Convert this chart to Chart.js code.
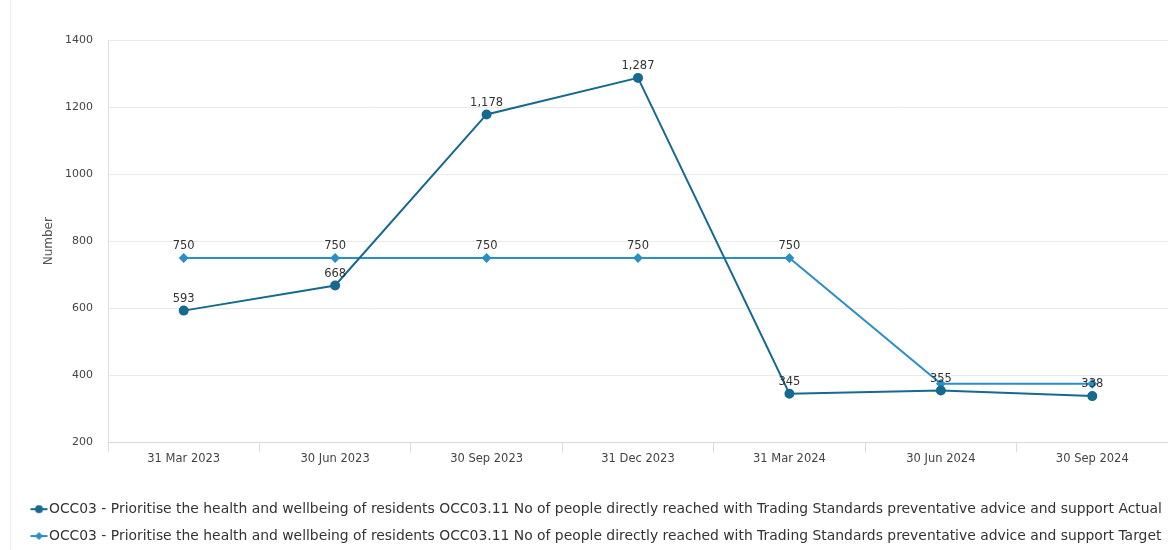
<!DOCTYPE html>
<html>
<head>
<meta charset="utf-8">
<script src="https://cdn.jsdelivr.net/npm/chart.js@4.4.1/dist/chart.umd.min.js"></script>
<style>
  html, body { margin: 0; padding: 0; background: #ffffff; }
  #wrap { position: relative; width: 1168px; height: 550px; overflow: hidden; }
  #edge { position: absolute; left: 10px; top: 0; width: 1px; height: 550px; background: #ececec; }
  canvas { position: absolute; left: 0; top: 0; }
</style>
</head>
<body>
<div id="wrap">
  <div id="edge"></div>
  <canvas id="c" width="1174" height="555"></canvas>
</div>
<script>
const categories = ["31 Mar 2023", "30 Jun 2023", "30 Sep 2023", "31 Dec 2023", "31 Mar 2024", "30 Jun 2024", "30 Sep 2024"];
const actualValues = [593, 668, 1178, 1287, 345, 355, 338];
const targetValues = [750, 750, 750, 750, 750, 375, 375];
const yTicks = [200, 400, 600, 800, 1000, 1200, 1400];
const actualLabel = "OCC03 - Prioritise the health and wellbeing of residents OCC03.11 No of people directly reached with Trading Standards preventative advice and support Actual";
const targetLabel = "OCC03 - Prioritise the health and wellbeing of residents OCC03.11 No of people directly reached with Trading Standards preventative advice and support Target";

const ACTUAL_COLOR = "#176a8f";
const TARGET_COLOR = "#2a8fc4";
const FONT = "'DejaVu Sans', Verdana, sans-serif";

function legendIcon(color, shape) {
  const c = document.createElement("canvas");
  c.width = 48; c.height = 12;
  const g = c.getContext("2d");
  g.strokeStyle = color; g.fillStyle = color; g.lineWidth = 2;
  g.beginPath(); g.moveTo(27, 6); g.lineTo(44, 6); g.stroke();
  if (shape === "circle") {
    g.beginPath(); g.arc(35.5, 6, 4, 0, Math.PI * 2); g.fill();
  } else {
    g.beginPath(); g.moveTo(35.5, 2); g.lineTo(39.5, 6); g.lineTo(35.5, 10); g.lineTo(31.5, 6); g.closePath(); g.fill();
  }
  return c;
}
const icons = [legendIcon(ACTUAL_COLOR, "circle"), legendIcon(TARGET_COLOR, "rectRot")];

const valueLabels = {
  id: "valueLabels",
  afterDatasetsDraw(chart) {
    const ctx = chart.ctx;
    ctx.save();
    ctx.font = "11.5px " + FONT;
    ctx.fillStyle = "#333333";
    ctx.textAlign = "center";
    ctx.textBaseline = "bottom";
    const boxes = [];
    chart.data.datasets.forEach((ds, di) => {
      const meta = chart.getDatasetMeta(di);
      meta.data.forEach((pt, i) => {
        const txt = Number(ds.data[i]).toLocaleString("en-US");
        const w = ctx.measureText(txt).width;
        const x = pt.x, yb = pt.y - 6;
        const box = { l: x - w / 2 - 3, r: x + w / 2 + 3, t: yb - 15, b: yb + 3 };
        const hit = boxes.some(o => !(box.r < o.l || box.l > o.r || box.b < o.t || box.t > o.b));
        if (hit) return;
        boxes.push(box);
        ctx.fillText(txt, x, yb);
      });
    });
    ctx.restore();
  }
};

new Chart(document.getElementById("c"), {
  type: "line",
  data: {
    labels: categories,
    datasets: [
      {
        label: actualLabel,
        data: actualValues,
        borderColor: ACTUAL_COLOR,
        backgroundColor: ACTUAL_COLOR,
        borderWidth: 2,
        pointStyle: "circle",
        pointRadius: 4,
        pointHoverRadius: 4,
        tension: 0
      },
      {
        label: targetLabel,
        data: targetValues,
        borderColor: TARGET_COLOR,
        backgroundColor: TARGET_COLOR,
        borderWidth: 2,
        pointStyle: "rectRot",
        pointRadius: 3.5,
        pointHoverRadius: 3.5,
        tension: 0
      }
    ]
  },
  options: {
    responsive: false,
    animation: false,
    layout: { padding: { top: 40, right: 0, left: 0, bottom: 2 } },
    scales: {
      x: {
        offset: true,
        afterFit(scale) { scale.height += 23; },
        grid: { display: true, drawOnChartArea: false, drawTicks: true, tickLength: 10, color: "#dcdcdc", offset: true },
        border: { display: true, color: "#d8d8d8" },
        ticks: { font: { family: FONT, size: 11.5 }, color: "#444444", padding: 0, maxRotation: 0, autoSkip: false }
      },
      y: {
        min: 200, max: 1400,
        afterBuildTicks(scale) { scale.ticks = yTicks.map(v => ({ value: v })); },
        afterFit(scale) { scale.width = 108; },
        grid: { color: "#eaeaea", drawTicks: false },
        border: { display: true, color: "#e0e0e0" },
        ticks: { font: { family: FONT, size: 11 }, color: "#444444", padding: 15, callback: (v) => String(v) },
        title: { display: true, text: "Number", font: { family: FONT, size: 12 }, color: "#555555", padding: { top: 42, bottom: 0 } }
      }
    },
    plugins: {
      legend: {
        position: "bottom",
        align: "start",
        labels: {
          usePointStyle: true,
          pointStyleWidth: 29,
          padding: 13,
          color: "#333333",
          font: { family: FONT, size: 13.9 },
          generateLabels(chart) {
            const items = Chart.defaults.plugins.legend.labels.generateLabels(chart);
            items.forEach((it, i) => { it.pointStyle = icons[i]; });
            return items;
          }
        }
      },
      tooltip: { enabled: false }
    }
  },
  plugins: [valueLabels]
});
</script>
</body>
</html>
